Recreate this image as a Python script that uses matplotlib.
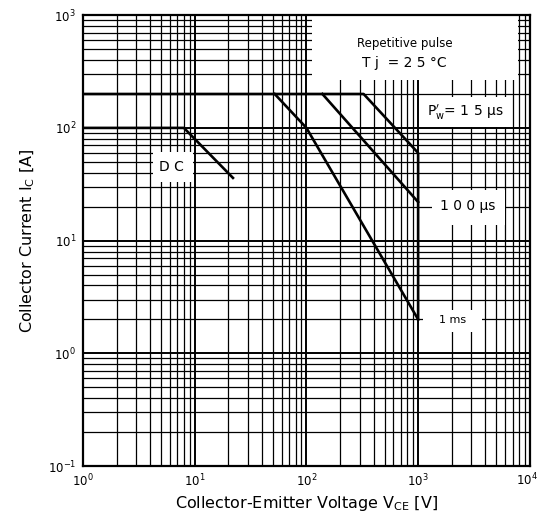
import matplotlib
matplotlib.use("Agg")
import matplotlib.pyplot as plt
from matplotlib.patches import Rectangle
from matplotlib.ticker import LogLocator, FuncFormatter, NullFormatter
import numpy as np

# safe operating area
dc_v = [1, 8, 22]
dc_i = [100, 100, 36]

pw15_v = [1, 325, 1000, 1000]
pw15_i = [200, 200, 60, 2]

pw100_v = [139, 1000]
pw100_i = [200, 22]

ms1_v = [52, 100, 1000]
ms1_i = [200, 100, 2]

x_range = [1, 1e4]
y_range = [0.1, 1e3]


def pow10(v, pos=None):
    return "$10^{%d}$" % round(np.log10(v))


def pow10_x(v, pos=None):
    # the last label is drawn separately so it stays inside the canvas
    if v >= x_range[1]:
        return ""
    return pow10(v)


fig = plt.figure(figsize=(5.39, 5.17), dpi=100)
ax = fig.add_axes([0.154, 0.0986, 0.829, 0.872])

ax.set_xscale("log")
ax.set_yscale("log")
ax.set_xlim(x_range)
ax.set_ylim(y_range)

subs = np.arange(2, 10)
ax.xaxis.set_major_locator(LogLocator(base=10, numticks=10))
ax.yaxis.set_major_locator(LogLocator(base=10, numticks=10))
ax.xaxis.set_minor_locator(LogLocator(base=10, subs=subs, numticks=20))
ax.yaxis.set_minor_locator(LogLocator(base=10, subs=subs, numticks=20))
ax.xaxis.set_major_formatter(FuncFormatter(pow10_x))
ax.yaxis.set_major_formatter(FuncFormatter(pow10))
ax.xaxis.set_minor_formatter(NullFormatter())
ax.yaxis.set_minor_formatter(NullFormatter())

ax.grid(which="major", color="black", lw=1.4, zorder=1)
ax.grid(which="minor", color="black", lw=0.9, zorder=1)
ax.set_axisbelow(True)
ax.tick_params(which="both", length=0, labelsize=8.5, pad=5)
for s in ax.spines.values():
    s.set_linewidth(1.6)

ax.text(0.993, -0.0125, pow10(x_range[1]), transform=ax.transAxes,
        ha="center", va="top", fontsize=8.5)

# white label boxes covering the grid
boxes = [
    (0.512, 0.856, 0.461, 0.150),
    (0.758, 0.752, 0.193, 0.066),
    (0.781, 0.534, 0.163, 0.078),
    (0.761, 0.297, 0.132, 0.049),
    (0.156, 0.630, 0.090, 0.066),
]
for x0, y0, w, h in boxes:
    ax.add_patch(Rectangle((x0, y0), w, h, transform=ax.transAxes,
                           facecolor="white", edgecolor="none", zorder=2))

lw = 1.9
ax.plot(dc_v, dc_i, color="black", lw=lw, zorder=3)
ax.plot(pw15_v, pw15_i, color="black", lw=lw, zorder=3)
ax.plot(pw100_v, pw100_i, color="black", lw=lw, zorder=3)
ax.plot(ms1_v, ms1_i, color="black", lw=lw, zorder=3)

kw = dict(transform=ax.transAxes, ha="center", va="center", zorder=4)
ax.text(0.720, 0.938, "Repetitive pulse", fontsize=8.5, **kw)
ax.text(0.720, 0.893, "T j  = 2 5 °C", fontsize=10, **kw)
ax.text(0.855, 0.785, "P$_\\mathregular{w}^{\\prime}$= 1 5 μs", fontsize=10, **kw)
ax.text(0.862, 0.577, "1 0 0 μs", fontsize=10, **kw)
ax.text(0.826, 0.324, "1 ms", fontsize=8, **kw)
ax.text(0.199, 0.664, "D C", fontsize=10, **kw)

ax.set_xlabel("Collector-Emitter Voltage V$_\\mathregular{CE}$ [V]", fontsize=11.5, labelpad=3)
ax.set_ylabel("Collector Current I$_\\mathregular{C}$ [A]", fontsize=11.5, labelpad=8)

fig.savefig("out.png", dpi=100)
